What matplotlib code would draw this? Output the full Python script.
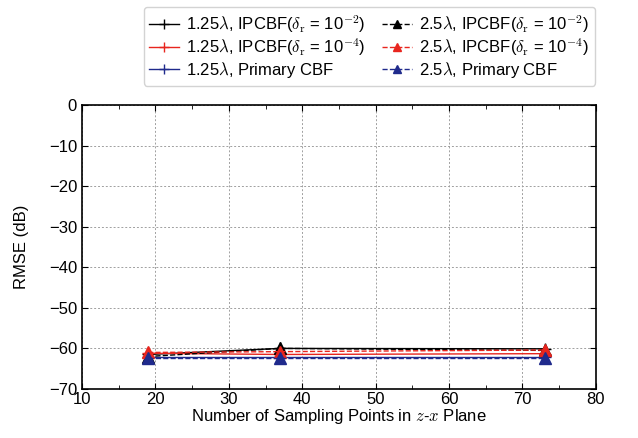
import matplotlib
matplotlib.use("Agg")
import matplotlib.pyplot as plt
from matplotlib.ticker import MultipleLocator

plt.rcParams["font.family"] = ["Liberation Sans", "DejaVu Sans"]
plt.rcParams["mathtext.fontset"] = "cm"
plt.rcParams["font.size"] = 12

# Данные
n_points = [19, 37, 73]
ipcbf2_125 = [-61.5, -60.0, -60.1]
ipcbf4_125 = [-61.2, -61.5, -61.3]
primary_125 = [-62.0, -62.0, -62.0]
ipcbf2_25 = [-62.0, -60.0, -60.5]
ipcbf4_25 = [-61.0, -60.8, -60.4]
primary_25 = [-62.3, -62.3, -62.3]

labels = [
    r"1.25$\lambda$, IPCBF($\delta_{\rm r}$ = 10$^{-2}$)",
    r"1.25$\lambda$, IPCBF($\delta_{\rm r}$ = 10$^{-4}$)",
    r"1.25$\lambda$, Primary CBF",
    r"2.5$\lambda$, IPCBF($\delta_{\rm r}$ = 10$^{-2}$)",
    r"2.5$\lambda$, IPCBF($\delta_{\rm r}$ = 10$^{-4}$)",
    r"2.5$\lambda$, Primary CBF",
]

black = "#000000"
red = "#e8251e"
blue = "#1f2a8c"

fig = plt.figure(figsize=(6.38, 4.38), dpi=100)
ax = fig.add_axes([0.1285, 0.112, 0.934 - 0.1285, 0.760 - 0.112])

ax.plot(n_points, ipcbf2_125, "-", marker="+", color=black, lw=1, ms=9, label=labels[0])
ax.plot(n_points, ipcbf4_125, "-", marker="+", color=red, lw=1, ms=9, label=labels[1])
ax.plot(n_points, primary_125, "-", marker="+", color=blue, lw=1, ms=9, label=labels[2])
ax.plot(n_points, ipcbf2_25, "--", marker="^", color=black, lw=1, ms=8, label=labels[3])
ax.plot(n_points, ipcbf4_25, "--", marker="^", color=red, lw=1, ms=8, label=labels[4])
ax.plot(n_points, primary_25, "--", marker="^", color=blue, lw=1, ms=8, label=labels[5])

ax.set_xlim(10, 80)
ax.set_ylim(-70, 0)
ax.xaxis.set_major_locator(MultipleLocator(10))
ax.xaxis.set_minor_locator(MultipleLocator(5))
ax.yaxis.set_major_locator(MultipleLocator(10))
ax.tick_params(which="both", direction="in", top=True, right=True, labelsize=12)
ax.tick_params(which="major", length=4)
ax.tick_params(which="minor", length=3)
ax.tick_params(axis="x", pad=2)
ax.grid(True, which="major", linestyle=(0, (2, 2)), color="#a0a0a0", lw=0.7)
for s in ax.spines.values():
    s.set_linewidth(1.2)

ax.set_xlabel(r"Number of Sampling Points in $z$-$x$ Plane", fontsize=12, labelpad=0)
ax.set_ylabel("RMSE (dB)", fontsize=12, labelpad=14)

fig.legend(loc="upper right", bbox_to_anchor=(595 / 638, 1 - 7 / 438),
           borderaxespad=0, ncol=2, fontsize=12, frameon=True, edgecolor="#c8c8c8",
           handlelength=1.8, handletextpad=0.4, columnspacing=1.0,
           labelspacing=0.1, borderpad=0.35, markerscale=0.75)

plt.savefig("out.png", dpi=100)
